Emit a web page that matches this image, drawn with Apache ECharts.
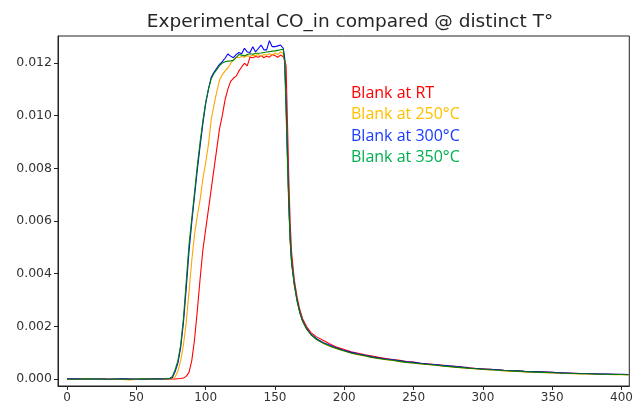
<!DOCTYPE html>
<html>
<head>
<meta charset="utf-8">
<script src="https://cdn.jsdelivr.net/npm/echarts@6/dist/echarts.min.js"></script>
<style>
  html, body { margin: 0; padding: 0; background: #fff; }
  #chart { width: 636px; height: 405px; }
</style>
</head>
<body>
<div id="chart"></div>
<script>
// time axis (s) shared by all four runs
const timeX = [0,5,10,15,20,25,30,35,40,45,50,55,60,65,70,74,
  76,78,80,82,84,86,88,90,92,94,96,98,100,102,104,106,108,110,112,114,116,118,120,
  122,124,126,128,130,132,134,136,138,140,142,144,146,148,150,152,154,156,
  157,158,159,160,161,162,164,166,168,170,173,176,
  180,185,190,195,200,205,210,215,220,225,230,235,240,245,250,255,260,265,270,275,
  280,285,290,295,300,305,310,315,320,325,330,335,340,345,350,355,360,365,370,375,
  380,385,390,395,400,405];

const blankRT = [0.00001,0.00000,0.00001,0.00000,-0.00001,0.00001,0.00000,0.00000,0.00001,0.00000,-0.00001,0.00000,0.00001,0.00000,0.00000,0.00000,
  0.00000,0.00000,0.00001,0.00002,0.00004,0.00010,0.00025,0.00070,0.00150,0.00260,0.00380,0.00490,0.00567,0.00643,0.00720,0.00797,0.00873,0.00950,0.01000,0.01060,0.01100,0.01130,0.01142,
  0.01150,0.01170,0.01185,0.01199,0.01189,0.01222,0.01220,0.01225,0.01222,0.01228,0.01220,0.01226,0.01222,0.01232,0.01228,0.01222,0.01230,0.01224,
  0.01211,0.01190,0.00980,0.00760,0.00590,0.00480,0.00375,0.00310,0.00262,0.00228,0.00197,0.00176,
  0.00160,0.00146,0.00132,0.00120,0.00112,0.00103,0.00098,0.00092,0.00087,0.00082,0.00078,0.00074,0.00071,0.00066,0.00064,0.00060,0.00058,0.00055,0.00053,0.00050,
  0.00048,0.00045,0.00043,0.00040,0.00039,0.00037,0.00035,0.00033,0.00032,0.00031,0.00029,0.00028,0.00027,0.00026,0.00025,0.00024,0.00023,0.00022,0.00021,0.00020,
  0.00020,0.00019,0.00018,0.00018,0.00017,0.00017];

const blank250 = [-0.00002,-0.00001,-0.00002,-0.00001,-0.00002,-0.00001,-0.00002,-0.00001,-0.00002,-0.00004,-0.00002,-0.00001,-0.00002,-0.00001,-0.00002,-0.00001,
  0.00001,0.00008,0.00030,0.00070,0.00130,0.00215,0.00330,0.00450,0.00550,0.00620,0.00680,0.00760,0.00820,0.00890,0.00985,0.01040,0.01090,0.01135,0.01155,0.01170,0.01180,0.01198,0.01212,
  0.01222,0.01220,0.01225,0.01222,0.01228,0.01225,0.01230,0.01228,0.01232,0.01226,0.01232,0.01230,0.01235,0.01230,0.01238,0.01232,0.01242,0.01236,
  0.01215,0.01050,0.00850,0.00660,0.00525,0.00442,0.00356,0.00296,0.00251,0.00219,0.00189,0.00169,
  0.00150,0.00135,0.00123,0.00114,0.00106,0.00098,0.00092,0.00087,0.00082,0.00077,0.00073,0.00070,0.00066,0.00063,0.00060,0.00057,0.00055,0.00052,0.00050,0.00047,
  0.00045,0.00042,0.00040,0.00038,0.00036,0.00034,0.00033,0.00031,0.00029,0.00029,0.00027,0.00026,0.00025,0.00024,0.00023,0.00022,0.00021,0.00020,0.00019,0.00019,
  0.00018,0.00017,0.00017,0.00016,0.00016,0.00015];

const blank300 = [0.00000,0.00001,0.00000,0.00000,0.00001,0.00000,-0.00001,0.00000,0.00001,0.00000,0.00000,-0.00001,0.00000,0.00001,0.00000,0.00001,
  0.00006,0.00028,0.00060,0.00120,0.00215,0.00345,0.00485,0.00595,0.00695,0.00795,0.00885,0.00970,0.01045,0.01100,0.01145,0.01165,0.01180,0.01195,0.01205,0.01218,0.01234,0.01226,0.01220,
  0.01232,0.01240,0.01235,0.01256,0.01242,0.01240,0.01262,0.01242,0.01255,0.01268,0.01250,0.01250,0.01285,0.01262,0.01262,0.01265,0.01268,0.01256,
  0.01220,0.01060,0.00860,0.00670,0.00530,0.00445,0.00358,0.00298,0.00252,0.00220,0.00190,0.00170,
  0.00153,0.00138,0.00127,0.00117,0.00108,0.00101,0.00095,0.00090,0.00084,0.00080,0.00076,0.00073,0.00069,0.00065,0.00063,0.00060,0.00057,0.00055,0.00052,0.00050,
  0.00047,0.00045,0.00042,0.00040,0.00038,0.00037,0.00035,0.00033,0.00032,0.00031,0.00029,0.00028,0.00027,0.00026,0.00025,0.00024,0.00023,0.00022,0.00021,0.00021,
  0.00020,0.00019,0.00019,0.00018,0.00018,0.00017];

const blank350 = [0.00000,-0.00001,0.00000,0.00001,0.00000,0.00000,-0.00001,0.00000,0.00000,-0.00001,0.00000,0.00001,0.00000,0.00000,0.00001,0.00002,
  0.00010,0.00035,0.00070,0.00130,0.00230,0.00370,0.00510,0.00610,0.00710,0.00810,0.00900,0.00980,0.01050,0.01100,0.01140,0.01160,0.01175,0.01190,0.01200,0.01205,0.01207,0.01208,0.01210,
  0.01220,0.01232,0.01230,0.01227,0.01232,0.01235,0.01233,0.01237,0.01237,0.01238,0.01240,0.01242,0.01243,0.01245,0.01246,0.01248,0.01250,0.01252,
  0.01200,0.01020,0.00830,0.00650,0.00520,0.00440,0.00355,0.00295,0.00250,0.00218,0.00188,0.00168,
  0.00150,0.00136,0.00124,0.00115,0.00106,0.00099,0.00093,0.00088,0.00082,0.00078,0.00074,0.00071,0.00067,0.00063,0.00061,0.00058,0.00055,0.00053,0.00050,0.00048,
  0.00045,0.00043,0.00041,0.00039,0.00037,0.00035,0.00034,0.00032,0.00031,0.00030,0.00028,0.00027,0.00026,0.00025,0.00024,0.00023,0.00022,0.00021,0.00020,0.00020,
  0.00019,0.00018,0.00018,0.00017,0.00017,0.00016];

const seriesNames = ['Blank at RT', 'Blank at 250°C', 'Blank at 300°C', 'Blank at 350°C'];
const lineColors = ['#ff0000', '#ffa500', '#0000ff', '#008000'];
const textColors = ['#ff0000', '#ffc000', '#1a3cff', '#00b050'];
const allRuns = [blankRT, blank250, blank300, blank350];

const chart = echarts.init(document.getElementById('chart'));

const series = allRuns.map((vals, i) => ({
  name: seriesNames[i],
  type: 'line',
  data: timeX.map((x, j) => [x, vals[j]]),
  showSymbol: false,
  lineStyle: { color: lineColors[i], width: 1.1 },
  itemStyle: { color: lineColors[i] },
  animation: false,
  z: 2 + i
}));

// coloured labels inside the plot, one per run
const labels = seriesNames.map((name, i) => ({
  type: 'text',
  left: 351,
  top: 85 + i * 21.5,
  style: {
    text: name,
    fill: textColors[i],
    font: '16px "Open Sans"'
  }
}));

chart.setOption({
  animation: false,
  title: {
    text: 'Experimental CO_in compared @ distinct T°',
    left: 345,
    top: 8,
    textAlign: 'center',
    textStyle: { fontFamily: 'DejaVu Sans', fontSize: 18.5, fontWeight: 'normal', color: '#262626' }
  },
  grid: {
    left: 58, right: 5, top: 36, bottom: 19,
    show: true, borderColor: '#222', borderWidth: 1
  },
  xAxis: {
    type: 'value',
    min: -6.5,
    max: 405.6,
    splitNumber: 8,
    axisLine: { show: true, onZero: false, lineStyle: { color: '#222' } },
    axisTick: { show: true, length: 4, lineStyle: { color: '#222' } },
    splitLine: { show: false },
    axisLabel: {
      showMinLabel: false, showMaxLabel: false,
      fontFamily: 'DejaVu Sans', fontSize: 12, color: '#333', margin: 6
    }
  },
  yAxis: {
    type: 'value',
    min: -0.000266,
    max: 0.013025,
    splitNumber: 6,
    axisLine: { show: true, onZero: false, lineStyle: { color: '#222' } },
    axisTick: { show: true, length: 4, lineStyle: { color: '#222' } },
    splitLine: { show: false },
    axisLabel: {
      showMinLabel: false, showMaxLabel: false,
      fontFamily: 'DejaVu Sans', fontSize: 12.5, color: '#333', margin: 6,
      formatter: v => v.toFixed(3)
    }
  },
  graphic: labels,
  series: series
});
</script>
</body>
</html>
